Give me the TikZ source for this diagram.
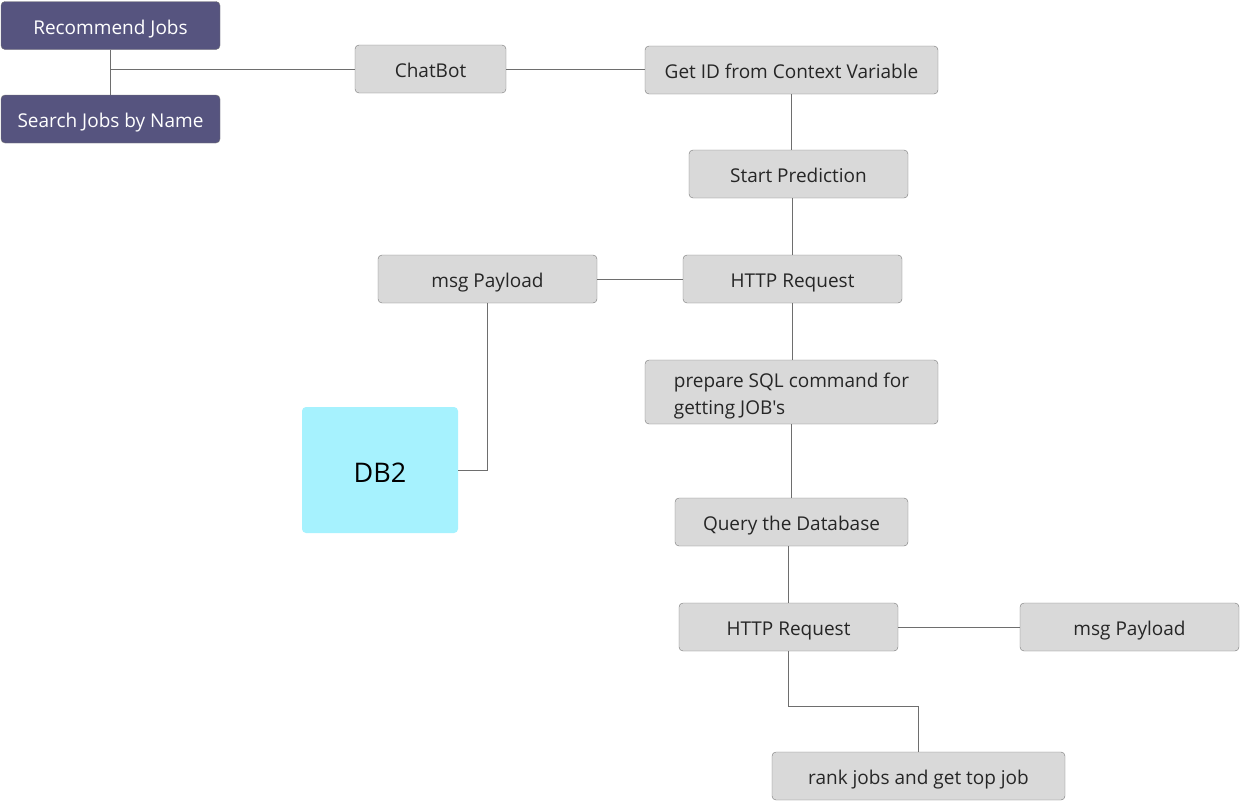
\documentclass[tikz,border=0pt]{standalone}
\usepackage{fontspec}
\setmainfont{Open Sans}[Ligatures=TeXOff]
\definecolor{purp}{HTML}{56547F}
\definecolor{boxgray}{HTML}{D9D9D9}
\definecolor{edgegray}{HTML}{777777}
\definecolor{linegray}{HTML}{6E6E6E}
\definecolor{dbcyan}{HTML}{A6F2FE}
\begin{document}
\begin{tikzpicture}[x=1pt,y=-1pt,
  base/.style={rounded corners=4pt, inner sep=0pt, minimum height=48pt, font=\fontsize{19}{27}\selectfont, text height=17.5pt, text depth=0pt},
  gbox/.style={base, draw=edgegray, fill=boxgray, text=black!85},
  pbox/.style={base, draw=edgegray, fill=purp, text=white},
  conn/.style={draw=linegray, line width=0.8pt}]
\useasboundingbox (0,0) rectangle (1240,801);
\node[pbox, minimum width=219pt] (rec) at (110.5,25.5) {Recommend Jobs};
\node[pbox, minimum width=219pt] (search) at (110.5,119) {Search Jobs by Name};
\node[gbox, minimum width=151pt] (chat) at (430.5,69) {ChatBot};
\node[gbox, minimum width=293pt] (getid) at (791.5,70) {Get ID from Context Variable};
\node[gbox, minimum width=219pt] (start) at (798.5,174) {Start Prediction};
\node[gbox, minimum width=219pt] (msg1) at (487.5,279) {msg Payload};
\node[gbox, minimum width=219pt] (http1) at (792.5,279) {HTTP Request};
\node[gbox, minimum width=293pt, minimum height=64pt, align=left, text height=44pt, text depth=0pt] (prep) at (791.5,392) {prepare SQL command for\\getting JOB's};
\node[rounded corners=4pt, fill=dbcyan, minimum width=156pt, minimum height=126pt, inner sep=0pt, font=\fontsize{27}{32}\selectfont, text height=25.3pt, text depth=0pt] (db2) at (380,470) {DB2};
\node[gbox, minimum width=233pt] (query) at (791.5,522) {Query the Database};
\node[gbox, minimum width=219pt] (http2) at (788.5,627) {HTTP Request};
\node[gbox, minimum width=219pt] (msg2) at (1129.5,627) {msg Payload};
\node[gbox, minimum width=293pt] (rank) at (918.5,776) {rank jobs and get top job};
\draw[conn] (rec.south) -- (search.north);
\draw[conn] (rec.south |- chat.west) -- (chat.west);
\draw[conn] (chat.east) -- (chat.east -| getid.west);
\draw[conn] (getid.south) -- (getid.south |- start.north);
\draw[conn] (http1.north |- start.south) -- (http1.north);
\draw[conn] (msg1.east) -- (http1.west);
\draw[conn] (http1.south) -- (http1.south |- prep.north);
\draw[conn] (prep.south) -- (query.north);
\draw[conn] (http2.north |- query.south) -- (http2.north);
\draw[conn] (http2.east) -- (msg2.west);
\draw[conn] (http2.south) -- ++(0,55) -| (rank.north);
\draw[conn] (msg1.south) |- (db2.east);
\end{tikzpicture}
\end{document}
